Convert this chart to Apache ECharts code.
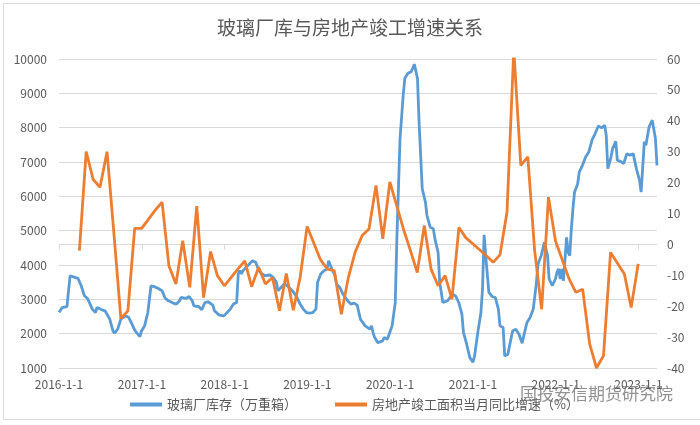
<!DOCTYPE html>
<html>
<head>
<meta charset="utf-8">
<script src="https://cdn.jsdelivr.net/npm/echarts@6/dist/echarts.min.js"></script>
<style>html,body{margin:0;padding:0;background:#fff}#c{width:700px;height:425px}</style>
</head>
<body>
<div id="c"></div>
<script>
const chartTitle = '玻璃厂库与房地产竣工增速关系';
const seriesNames = ['玻璃厂库存（万重箱）', '房地产竣工面积当月同比增速（%）'];
const watermark = '国投安信期货研究院';

// Blue: weekly data, week offset from 2016-01-01
const blueWeeks = [0,2,5,6,7,8,10,12,14,16,18,21,23,24,27,29,32,34,35,37,39,42,44,46,48,51,52,54,55,56,58,60,62,65,66,67,69,72,74,76,77,80,82,84,85,88,90,91,92,94,95,97,98,101,102,104,106,108,110,112,113,114,115,116,118,120,122,124,126,128,130,133,135,137,138,140,142,144,146,148,150,152,154,156,158,160,162,163,165,167,169,170,172,174,175,177,179,182,184,186,188,190,193,194,196,197,198,199,201,202,204,205,207,208,210,212,213,214,215,217,218,220,222,223,224,226,227,228,229,231,232,234,236,237,239,240,242,243,245,248,250,252,254,255,257,259,261,262,264,266,267,268,269,271,273,275,277,278,280,281,283,284,286,288,290,292,293,295,297,299,301,302,304,306,308,309,311,313,314,315,316,317,318,320,321,322,323,324,325,327,328,330,332,334,336,338,340,342,344,345,346,348,349,351,352,354,356,358,360,362,364,366,367,369,370,372,374,376,377];
const blueValues = [2620,2762,2791,2790,3688,3738,3640,3610,3396,3104,3025,2715,2616,2762,2695,2666,2423,2081,2014,2131,2423,2519,2470,2277,2081,1915,2081,2227,2423,2616,3396,3370,3330,3250,3300,3025,2958,2890,2861,2958,3054,3025,3083,2958,2812,2791,2695,2695,2908,2929,2958,2832,2666,2540,2499,2519,2616,2715,2861,2908,3738,3834,3738,3834,3931,4030,4127,4080,3840,3738,3688,3709,3640,3494,3250,3346,3446,3396,3300,3200,3054,2861,2715,2616,2597,2616,2715,3494,3738,3834,3884,4120,3884,3688,3446,3346,3154,2958,2861,2890,2830,2423,2227,2277,2131,2227,2031,1885,1739,1720,1789,1885,1837,1789,2227,2908,4760,6222,7683,8948,9436,9582,9630,9728,9850,9436,8168,7195,6222,5830,5441,5100,5053,4760,4369,3494,2908,2861,2958,3150,3100,2908,2569,2031,1693,1301,1170,1351,2031,2616,3300,4880,4273,3200,3083,3054,2715,2227,2178,1351,1400,1643,2081,2131,1985,1720,1935,2324,2470,2715,3494,4030,4273,4661,4273,3592,3396,3600,3800,3884,3592,3884,3542,4807,4369,4273,5053,5637,6122,6368,6707,6902,7145,7291,7633,7829,8051,7993,8071,7779,6806,7145,7390,7604,7049,7020,6952,7244,7195,7244,6806,6465,6122,7585,7487,8022,8217,7683,6902];

// Orange: monthly data (month-end)
const orangeMonths = ['2016-03','2016-04','2016-05','2016-06','2016-07','2016-08','2016-09','2016-10','2016-11','2016-12',
'2017-02','2017-03','2017-04','2017-05','2017-06','2017-07','2017-08','2017-09','2017-10','2017-11','2017-12',
'2018-02','2018-03','2018-04','2018-05','2018-06','2018-07','2018-08','2018-09','2018-10','2018-11','2018-12',
'2019-02','2019-03','2019-04','2019-05','2019-06','2019-07','2019-08','2019-09','2019-10','2019-11','2019-12',
'2020-02','2020-03','2020-04','2020-05','2020-06','2020-07','2020-08','2020-09','2020-10','2020-11','2020-12',
'2021-02','2021-03','2021-04','2021-05','2021-06','2021-07','2021-08','2021-09','2021-10','2021-11','2021-12',
'2022-02','2022-03','2022-04','2022-05','2022-06','2022-07','2022-08','2022-09','2022-10','2022-11','2022-12'];
const orangeValues = [-2,30,21,18.5,30,3,-24,-21.5,5.2,5.2,
11,13.7,-6.9,-12.8,1.2,-13.9,12.4,-17.2,-2.3,-10.1,-13.4,
-8,-5.3,-13.7,-7.4,-12.8,-10.7,-21.5,-9.4,-21.3,-10.7,5.8,
-5,-8,-8.5,-22.6,-11,-2.5,2.9,5,19.1,1.8,20.2,
5,-2,-9.1,6.1,-8,-13.4,-10.1,-17.7,5.5,2.2,0.2,
-3.6,-5.8,-3.4,10.4,63,25.6,28.3,-2,-21,15.3,1.2,
-11,-15.5,-14.5,-32.3,-40,-36,-2.6,-6,-9.6,-20.4,-6.3];

const leftAxis = {min: 1000, max: 10000, interval: 1000};
const rightAxis = {min: -40, max: 60, interval: 10};

const blueData = blueWeeks.map((w, i) => [new Date(2016, 0, 1 + 7 * w).getTime(), blueValues[i]]);
const orangeData = orangeMonths.map((m, i) => {
  const [y, mo] = m.split('-').map(Number);
  return [new Date(y, mo, 0).getTime(), orangeValues[i]];
});
const xMin = new Date(2016, 0, 1).getTime();
const xMax = blueData[blueData.length - 1][0];
const DAY = 86400000;
const txt = '#595959';
const font = '"Noto Sans CJK SC", "Noto Sans", sans-serif';

const chart = echarts.init(document.getElementById('c'), null, {renderer: 'canvas'});
chart.setOption({
  animation: false,
  backgroundColor: '#fff',
  textStyle: {fontFamily: font},
  title: {
    text: chartTitle, left: 'center', top: 13,
    textStyle: {fontSize: 19, fontWeight: 'normal', color: txt, fontFamily: font}
  },
  legend: {
    left: 125, top: 393, itemWidth: 32, itemHeight: 4, itemGap: 38, icon: 'rect',
    textStyle: {fontSize: 13, color: txt, fontFamily: font},
    data: seriesNames
  },
  grid: {left: 59, right: 43, top: 59, bottom: 57},
  xAxis: {
    type: 'time', min: xMin, max: xMax,
    minInterval: 365 * DAY, maxInterval: 366 * DAY,
    axisLine: {lineStyle: {color: '#d9d9d9'}},
    axisTick: {show: true, length: 5, lineStyle: {color: '#d9d9d9'}},
    splitLine: {show: false},
    axisLabel: {
      color: txt, fontSize: 12, margin: 10, fontFamily: font,
      formatter: v => new Date(v).getFullYear() + '-1-1'
    }
  },
  yAxis: [
    {
      type: 'value', min: leftAxis.min, max: leftAxis.max, interval: leftAxis.interval,
      axisLine: {show: false}, axisTick: {show: false},
      splitLine: {lineStyle: {color: '#d9d9d9'}},
      axisLabel: {color: txt, fontSize: 12, margin: 12, fontFamily: font, formatter: v => String(v)}
    },
    {
      type: 'value', min: rightAxis.min, max: rightAxis.max, interval: rightAxis.interval,
      axisLine: {show: false}, axisTick: {show: false},
      splitLine: {show: false},
      axisLabel: {color: txt, fontSize: 12, margin: 10, fontFamily: font, formatter: v => String(v)}
    }
  ],
  series: [
    {
      name: seriesNames[0], type: 'line', yAxisIndex: 0, data: blueData,
      showSymbol: false, symbol: 'none', color: '#5B9BD5',
      lineStyle: {width: 2.8, color: '#5B9BD5'}, z: 2
    },
    {
      name: seriesNames[1], type: 'line', yAxisIndex: 1, data: orangeData,
      showSymbol: false, symbol: 'none', color: '#ED7D31',
      lineStyle: {width: 2.8, color: '#ED7D31'}, z: 3
    }
  ],
  graphic: [
    {
      type: 'rect', left: 1, top: 1, shape: {width: 697, height: 416},
      style: {fill: 'none', stroke: '#d9d9d9', lineWidth: 1}, silent: true
    },
    {
      type: 'text', left: 520, top: 385,
      style: {text: watermark, fontSize: 17, fill: 'rgba(110,110,110,0.75)', fontFamily: font}, z: 10
    }
  ]
});
</script>
</body>
</html>
